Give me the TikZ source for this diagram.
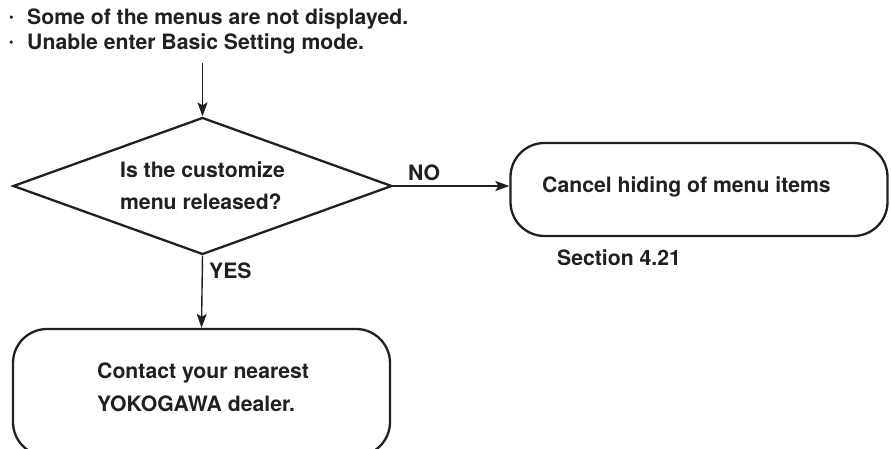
\documentclass[tikz,border=0pt]{standalone}
\usepackage{fontspec}
\setmainfont{TeX Gyre Heros}
\usetikzlibrary{shapes.geometric,arrows.meta}
\definecolor{ink}{RGB}{35,31,32}
\newcommand{\itemdot}{\makebox[18pt][l]{\raisebox{3pt}{\fontsize{13}{13}\selectfont •}}}
\begin{document}
\begin{tikzpicture}[x=1pt,y=-1pt,
  every node/.style={font=\fontsize{21.2}{32}\selectfont\bfseries, text=ink, inner sep=0pt},
  shapeline/.style={draw=ink, line width=2.3pt},
  decision/.style={shapeline, diamond, aspect=2.77, minimum width=379pt, minimum height=137pt, align=left},
  roundbox/.style={shapeline, rectangle, rounded corners=34pt},
  flow/.style={draw=ink, line width=1.4pt, -{Stealth[length=14pt,width=10pt,inset=3pt]}},
  caption/.style={anchor=base west}]
\useasboundingbox (0,0) rectangle (891,449);
\clip (0,0) rectangle (891,449);

% symptoms (anchored at the baseline of the last line)
\node[caption, align=left, font=\fontsize{21.2}{24.5}\selectfont\bfseries] (issues) at (9,49.5)
  {\itemdot Some of the menus are not displayed.\\
   \itemdot Unable enter Basic Setting mode.};
\coordinate (start) at (202.5,63);

% decision
\node[decision] (dia) at (202.5,186) {Is the customize\\menu released?};

% NO branch
\node[roundbox, minimum width=377pt, minimum height=93pt] (nobox) at (699,189.5) {};
\node[caption] (notext) at (542,193) {Cancel hiding of menu items};
\node[caption] (ref) at (557,265) {Section 4.21};

% YES branch
\node[roundbox, minimum width=377pt, minimum height=127pt] (dealer) at (201.5,392.5) {};
\node[caption, align=left, font=\fontsize{21.2}{33}\selectfont\bfseries] (dealertext) at (97,411)
  {Contact your nearest\\YOKOGAWA dealer.};

% connectors
\draw[flow] (start) -- (dia.north);
\draw[flow] (dia.east) -- (dia.east -| nobox.west);
\draw[flow] (dia.south) -- (dealer.north);
\node[caption] (no) at (408,181) {NO};
\node[caption] (yes) at (209,278) {YES};
\end{tikzpicture}
\end{document}
